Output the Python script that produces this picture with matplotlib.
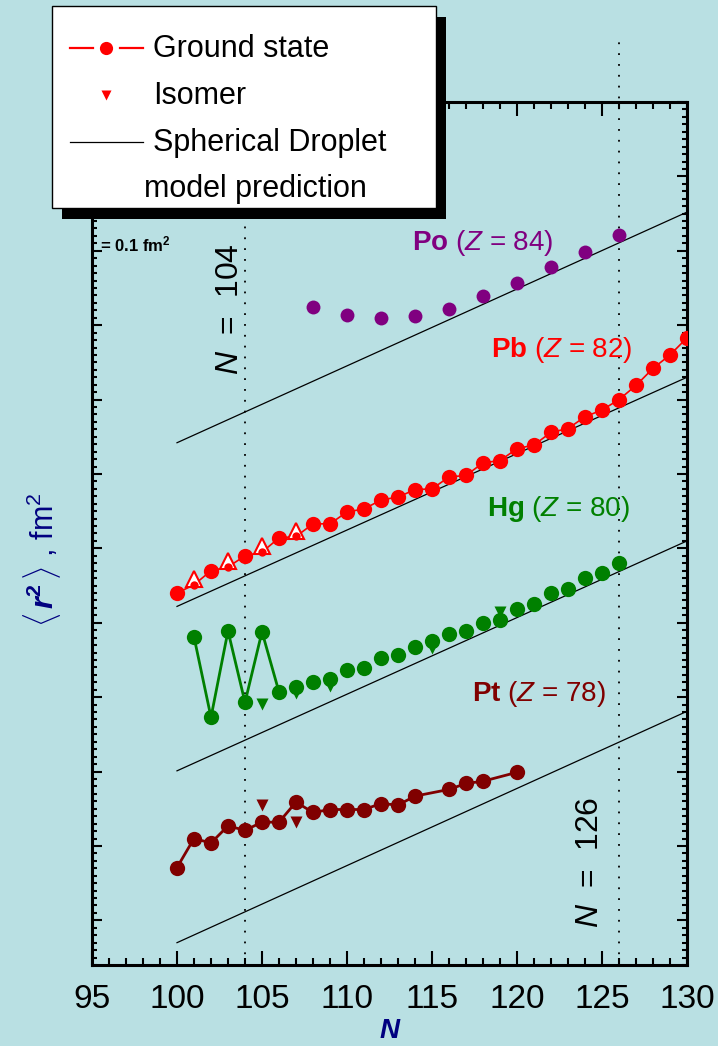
import matplotlib.pyplot as plt
from matplotlib import ticker
from matplotlib.patches import Rectangle

# fonts: Arial-like sans, custom mathtext for the bold/italic pieces
plt.rcParams['font.family'] = ['Liberation Sans', 'DejaVu Sans']
plt.rcParams['mathtext.fontset'] = 'custom'
plt.rcParams['mathtext.rm'] = 'Liberation Sans'
plt.rcParams['mathtext.it'] = 'Liberation Sans:italic'
plt.rcParams['mathtext.bf'] = 'Liberation Sans:bold'
plt.rcParams['mathtext.sf'] = 'Liberation Sans:bold:italic'

# mean square charge radii (relative, fm^2), curves shifted for clarity
po_n = [108, 110, 112, 114, 116, 118, 120, 122, 124, 126]
po_r = [0.924, 0.914, 0.909, 0.912, 0.922, 0.939, 0.957, 0.978, 0.998, 1.021]

pb_n = list(range(100, 131))
pb_r = [0.540, 0.551, 0.570, 0.575, 0.590, 0.595, 0.614, 0.616, 0.633, 0.633,
        0.649, 0.653, 0.665, 0.669, 0.679, 0.680, 0.696, 0.698, 0.715, 0.718,
        0.734, 0.739, 0.756, 0.761, 0.777, 0.786, 0.800, 0.819, 0.842, 0.860,
        0.883]
pb_small_n = [101, 103, 105, 107]
pb_iso_n = [101, 103, 105, 107]
pb_iso_r = [0.559, 0.583, 0.603, 0.624]

hg_n = list(range(101, 127))
hg_r = [0.481, 0.373, 0.489, 0.393, 0.488, 0.407, 0.414, 0.420, 0.424, 0.437,
        0.439, 0.453, 0.457, 0.467, 0.476, 0.485, 0.489, 0.500, 0.504, 0.519,
        0.525, 0.540, 0.546, 0.560, 0.567, 0.581]
hg_iso_n = [105, 107, 109, 115, 119]
hg_iso_r = [0.391, 0.405, 0.415, 0.466, 0.515]

pt_n = [100, 101, 102, 103, 104, 105, 106, 107, 108, 109, 110, 111, 112, 113,
        114, 116, 117, 118, 120]
pt_r = [0.171, 0.210, 0.204, 0.227, 0.221, 0.232, 0.232, 0.259, 0.245, 0.249,
        0.249, 0.249, 0.257, 0.255, 0.267, 0.276, 0.284, 0.287, 0.299]
pt_iso_n = [105, 107]
pt_iso_r = [0.255, 0.232]

# spherical droplet model predictions
drop_n = [100, 130]
drop_po = [0.742, 1.052]
drop_pb = [0.522, 0.830]
drop_hg = [0.301, 0.610]
drop_pt = [0.070, 0.381]

magic_n = [104, 126]

bg = '#b9e0e3'
c_po, c_pb, c_hg, c_pt = '#800080', '#ff0000', '#008000', '#800000'
navy = '#000080'

fig = plt.figure(figsize=(7.18, 10.46), dpi=100, facecolor=bg)
ax = fig.add_axes([92 / 718, 81 / 1046, 595 / 718, 863 / 1046], facecolor=bg)

# droplet lines
for d in (drop_po, drop_pb, drop_hg, drop_pt):
    ax.plot(drop_n, d, color='black', lw=0.9, zorder=2)

# magic numbers
for n in magic_n:
    ax.plot([n, n], [0.04, 1.28], color='black', lw=1.3,
            linestyle=(0, (1.0, 5.0)), clip_on=False, zorder=1)

# Po
ax.plot(po_n, po_r, 'o', color=c_po, ms=10, mec='none', zorder=4)

# Pb
ax.plot(pb_n, pb_r, '-', color=c_pb, lw=1.2, zorder=3)
pb_big = [(n, r) for n, r in zip(pb_n, pb_r) if n not in pb_small_n]
pb_small = [(n, r) for n, r in zip(pb_n, pb_r) if n in pb_small_n]
ax.plot([p[0] for p in pb_big], [p[1] for p in pb_big], 'o', color=c_pb,
        ms=11, mec='none', zorder=4)
ax.plot(pb_iso_n, pb_iso_r, '^', mfc='white', mec=c_pb, mew=1.5, ms=12,
        zorder=4)
ax.plot([p[0] for p in pb_small], [p[1] for p in pb_small], 'o', color=c_pb,
        ms=6, mec='none', zorder=5)

# Hg
ax.plot(hg_n[:6], hg_r[:6], '-', color=c_hg, lw=2.0, zorder=3)
ax.plot(hg_iso_n, hg_iso_r, 'v', color=c_hg, ms=9, mec='none', zorder=4)
ax.plot(hg_n, hg_r, 'o', color=c_hg, ms=11, mec='none', zorder=4)

# Pt
ax.plot(pt_n, pt_r, '-o', color=c_pt, lw=2.0, ms=11, mec='none', zorder=4)
ax.plot(pt_iso_n, pt_iso_r, 'v', color=c_pt, ms=8, mec='none', zorder=4)

# element labels
lab_kw = dict(fontsize=20, ha='center', va='center')
ax.text(118.0, 1.011, r'$\mathbf{Po}$ ($Z$ = 84)', color=c_po, **lab_kw)
ax.text(122.65, 0.867, r'$\mathbf{Pb}$ ($Z$ = 82)', color=c_pb, **lab_kw)
ax.text(122.47, 0.653, r'$\mathbf{Hg}$ ($Z$ = 80)', color=c_hg, **lab_kw)
ax.text(121.3, 0.404, r'$\mathbf{Pt}$ ($Z$ = 78)', color=c_pt, **lab_kw)

ax.text(103.12, 0.921, r'$N$  =  104', rotation=90, fontsize=23,
        ha='center', va='center')
ax.text(124.29, 0.178, r'$N$  =  126', rotation=90, fontsize=23,
        ha='center', va='center')
ax.text(95.45, 1.0085, r'= 0.1 fm$^{\mathbf{2}}$', fontsize=12,
        fontweight='bold', ha='left', va='center')

# axes
ax.set_xlim(95, 130)
ax.set_ylim(0.04, 1.20)
ax.xaxis.set_major_locator(ticker.MultipleLocator(5))
ax.xaxis.set_minor_locator(ticker.MultipleLocator(1))
ax.yaxis.set_major_locator(ticker.MultipleLocator(0.1))
ax.yaxis.set_minor_locator(ticker.MultipleLocator(0.01))
for s in ax.spines.values():
    s.set_linewidth(2.2)
ax.tick_params(which='both', direction='in', top=True, right=True, width=1.5)
ax.tick_params(axis='x', which='major', length=10, labelsize=24, pad=14)
ax.tick_params(axis='x', which='minor', length=5)
ax.tick_params(axis='y', which='major', length=7.5, labelleft=False)
ax.tick_params(axis='y', which='minor', length=3.5)

ax.set_xlabel('N', fontsize=20, fontweight='bold', style='italic',
              color=navy, labelpad=2)
ax.set_ylabel(r'$\langle\,\mathsf{r}^{\mathbf{2}}\,\rangle$ , fm$^2$',
              fontsize=22, color=navy, va='center')
ax.yaxis.set_label_coords(-0.084, 0.47)

# legend box with hard shadow
lax = fig.add_axes([52 / 718, 838 / 1046, 384 / 718, 202 / 1046])
lax.set_xlim(0, 384)
lax.set_ylim(202, 0)
lax.set_axis_off()
lax.add_patch(Rectangle((10, 11), 384, 202, facecolor='black',
                        edgecolor='none', clip_on=False, zorder=0))
lax.add_patch(Rectangle((0, 0), 384, 202, facecolor='white',
                        edgecolor='black', lw=1.0, clip_on=False, zorder=1))
lax.plot([18, 41], [42, 42], color=c_pb, lw=1.6, zorder=2)
lax.plot([68, 91], [42, 42], color=c_pb, lw=1.6, zorder=2)
lax.plot([54], [42], 'o', color=c_pb, ms=9.5, mec='none', zorder=2)
lax.plot([54], [89], 'v', color=c_pb, ms=7, mec='none', zorder=2)
lax.plot([18, 91], [136, 136], color='black', lw=0.9, zorder=2)
leg_kw = dict(fontsize=22, va='center', ha='left', zorder=3)
lax.text(101, 43, 'Ground state', **leg_kw)
lax.text(101, 90, 'Isomer', **leg_kw)
lax.text(101, 137, 'Spherical Droplet', **leg_kw)
lax.text(92, 183, 'model prediction', **leg_kw)

fig.savefig('out.png', dpi=100, facecolor=bg)
